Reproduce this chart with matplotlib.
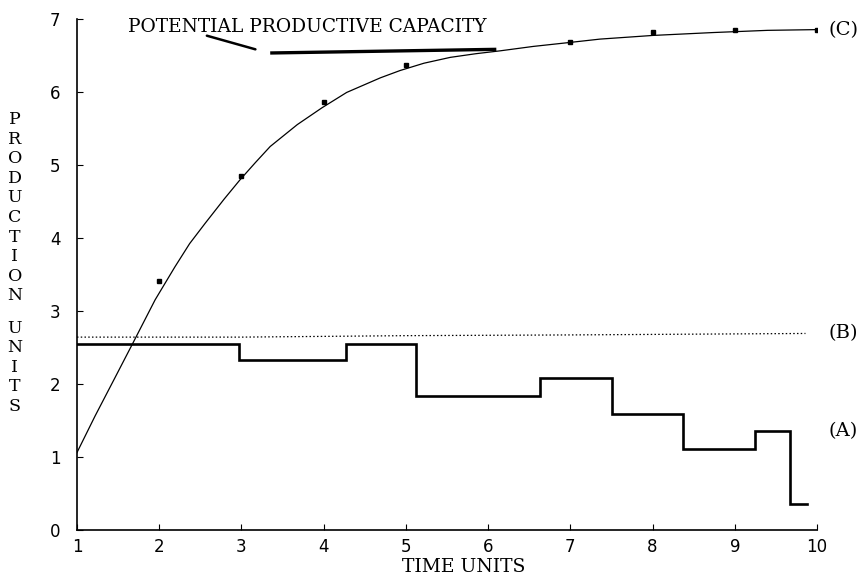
import matplotlib.pyplot as plt
import numpy as np

# (A) actual production, step function
a_edges = [1.0, 2.97, 4.27, 5.12, 6.63, 7.51, 8.37, 9.24, 9.67, 9.88]
a_values = [2.55, 2.33, 2.55, 1.84, 2.08, 1.59, 1.11, 1.36, 0.36]

# (B) dotted line
b_x = [1.0, 3.0, 5.0, 7.0, 9.86]
b_y = [2.64, 2.64, 2.66, 2.67, 2.69]

# (C) observed points and fitted curve
c_pts_x = [2, 3, 4, 5, 7, 8, 9, 10]
c_pts_y = [3.41, 4.84, 5.86, 6.36, 6.68, 6.82, 6.84, 6.85]
c_curve_x = [1.0, 1.22, 1.46, 1.69, 1.95, 2.19, 2.37, 2.56, 2.79, 2.98, 3.17,
             3.35, 3.68, 3.98, 4.28, 4.69, 4.93, 5.22, 5.54, 5.85, 6.15, 6.55,
             6.96, 7.36, 8.0, 8.74, 9.4, 10.0]
c_curve_y = [1.06, 1.56, 2.08, 2.58, 3.15, 3.60, 3.92, 4.20, 4.53, 4.79, 5.03,
             5.25, 5.55, 5.78, 5.99, 6.19, 6.29, 6.39, 6.47, 6.52, 6.56, 6.62,
             6.67, 6.72, 6.77, 6.81, 6.84, 6.85]

# potential productive capacity bar
cap_x = [3.35, 6.1]
cap_y = [6.53, 6.58]

x_ticks = list(range(1, 11))
y_ticks = list(range(0, 8))

serif = ['DejaVu Serif']

fig = plt.figure(figsize=(8.65, 5.83), dpi=100)
ax = fig.add_axes([0.089, 0.091, 0.8555, 0.877])

# step line A
sx, sy = [], []
for i, v in enumerate(a_values):
    sx += [a_edges[i], a_edges[i + 1]]
    sy += [v, v]
ax.plot(sx, sy, color='black', lw=1.9, solid_joinstyle='miter')

ax.plot(b_x, b_y, color='black', lw=0.9, linestyle=(0, (1.2, 1.8)))

ax.plot(c_curve_x, c_curve_y, color='black', lw=0.9)
ax.plot(c_pts_x, c_pts_y, 's', color='black', markersize=3.5)

ax.plot(cap_x, cap_y, color='black', lw=2.4, solid_capstyle='butt')

ax.annotate('POTENTIAL PRODUCTIVE CAPACITY', xy=(3.17, 6.58), xytext=(1.62, 6.89),
            fontsize=13.4, family=serif, va='center', ha='left',
            arrowprops=dict(arrowstyle='-', lw=1.8, color='black',
                            shrinkA=0, shrinkB=0, patchA=None,
                            relpos=(0.22, 0.0)))

ax.set_xlim(1, 10)
ax.set_ylim(0, 7)
ax.set_xticks(x_ticks)
ax.set_yticks(y_ticks)
for s in ['top', 'right']:
    ax.spines[s].set_visible(False)
for s in ['left', 'bottom']:
    ax.spines[s].set_linewidth(1.2)
ax.tick_params(direction='in', length=4, width=0.8, labelsize=12, pad=6)
ax.tick_params(axis='y', pad=12)

ax.set_xlabel('TIME UNITS', family=serif, fontsize=13.5)
ax.xaxis.set_label_coords(0.522, -0.055)

# stacked y label
label = 'PRODUCTION UNITS'
yy = 0.795
for ch in label:
    if ch == ' ':
        yy -= 0.022
        continue
    fig.text(0.017, yy, ch, family=serif, fontsize=12.5, ha='center', va='center')
    yy -= 0.0336

for txt, yv in [('(C)', 6.85), ('(B)', 2.69), ('(A)', 1.36)]:
    ax.text(1.015, yv, txt, transform=ax.get_yaxis_transform(), family=serif,
            fontsize=14, va='center', ha='left', clip_on=False)

fig.savefig('out.png', dpi=100)
